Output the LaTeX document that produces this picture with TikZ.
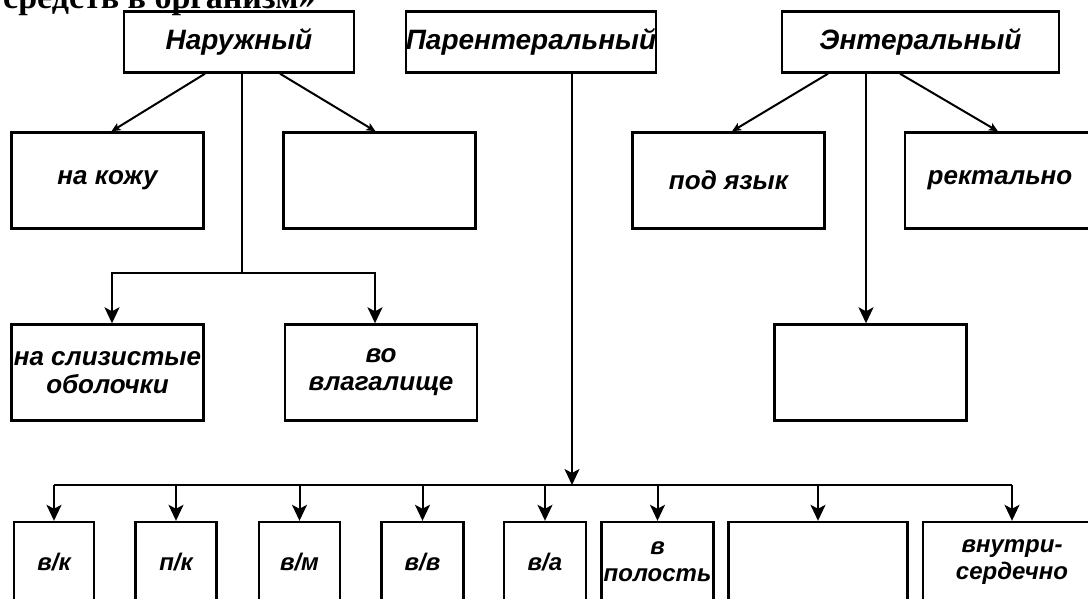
\documentclass[tikz,border=0pt]{standalone}
\usepackage{fontspec}
\newfontfamily\labelfont{Liberation Sans}
\newfontfamily\headfont{Liberation Serif}
\usetikzlibrary{arrows.meta}

\begin{document}
\begin{tikzpicture}[x=1pt,y=-1pt,
                    box/.style={draw,line width=2.4pt,inner sep=0pt,align=center},
                    head box/.style={box,minimum height=61pt,font=\labelfont\bfseries\itshape\fontsize{28}{30}\selectfont},
                    mid box/.style={box,minimum width=192pt,minimum height=96pt,font=\labelfont\bfseries\itshape\fontsize{26}{28}\selectfont},
                    low box/.style={box,minimum height=80pt,font=\labelfont\bfseries\itshape\fontsize{24}{27}\selectfont},
                    branch/.style={line width=2pt},
                    arrow/.style={branch,-{Stealth[length=16pt,width=15pt,inset=4pt]}},
                    small arrow/.style={branch,-{Stealth[length=9pt,width=8pt,inset=2pt]}}]
    \path[use as bounding box] (0,0) rectangle (1088,598);
    \clip (0,0) rectangle (1088,598);

    \node[anchor=base west,inner sep=0pt,font=\headfont\bfseries\fontsize{34}{36}\selectfont] (caption) at (3,8) {средств в организм»};

    % three ways in
    \node[head box,minimum width=230pt] (outer) at (239,42) {Наружный};
    \node[head box,minimum width=242pt] (parenteral) at (531,42) {Парентеральный};
    \node[head box,minimum width=277pt] (enteral) at (920.5,42) {Энтеральный};

    \node[mid box] (skin) at (107.5,180.5) {на кожу};
    \node[mid box] (outer blank) at (379.5,180.5) {};
    \node[mid box] (mucosa) at (107.5,372.5) {на слизистые\\оболочки};
    \node[mid box] (vagina) at (381,372.5) {во\\влагалище};
    \node[mid box] (tongue) at (728.5,180.5) {под язык};
    \node[mid box,minimum width=190pt] (rectal) at (1000,180.5) {ректально};
    \node[mid box] (enteral blank) at (870.5,372.5) {};

    \node[low box,minimum width=80pt] (vk) at (54,562) {в/к};
    \node[low box,minimum width=81pt] (pk) at (176,562) {п/к};
    \node[low box,minimum width=81pt] (vm) at (299.5,562) {в/м};
    \node[low box,minimum width=82pt] (vv) at (422.5,562) {в/в};
    \node[low box,minimum width=82pt] (va) at (545,562) {в/а};
    \node[low box,minimum width=112pt] (cavity) at (657.5,562) {в\\полость};
    \node[low box,minimum width=179pt] (parenteral blank) at (818,562) {};
    \node[low box,minimum width=178pt] (heart) at (1012,562) {внутри-\\сердечно};

    % outer branch
    \draw[small arrow] ([xshift=-34pt]outer.south) -- ([xshift=4pt]skin.north);
    \draw[small arrow] ([xshift=41pt]outer.south) -- ([xshift=-4pt]outer blank.north);
    \coordinate (outer fork) at (242,273);
    \draw[branch] ([xshift=3pt]outer.south) -- (outer fork);
    \draw[arrow] (outer fork) -| ([xshift=4.5pt]mucosa.north);
    \draw[arrow] (outer fork) -| ([xshift=-6pt]vagina.north);

    % enteral branch
    \draw[small arrow] ([xshift=-92.5pt]enteral.south) -- ([xshift=3.5pt]tongue.north);
    \draw[small arrow] ([xshift=-20.5pt]enteral.south) -- ([xshift=-2pt]rectal.north);
    \draw[arrow] ([xshift=-54.5pt]enteral.south) -- ([xshift=-54.5pt]enteral.south |- enteral blank.north);

    % parenteral branch
    \coordinate (bus) at (572,485);
    \draw[arrow] ([xshift=41pt]parenteral.south) -- (bus);
    \draw[branch] (vk.north |- bus) -- (heart.north |- bus);
    \foreach \way in {vk,pk,vm,vv,va,cavity,parenteral blank,heart}
        \draw[arrow] (\way.north |- bus) -- (\way.north);
\end{tikzpicture}
\end{document}
